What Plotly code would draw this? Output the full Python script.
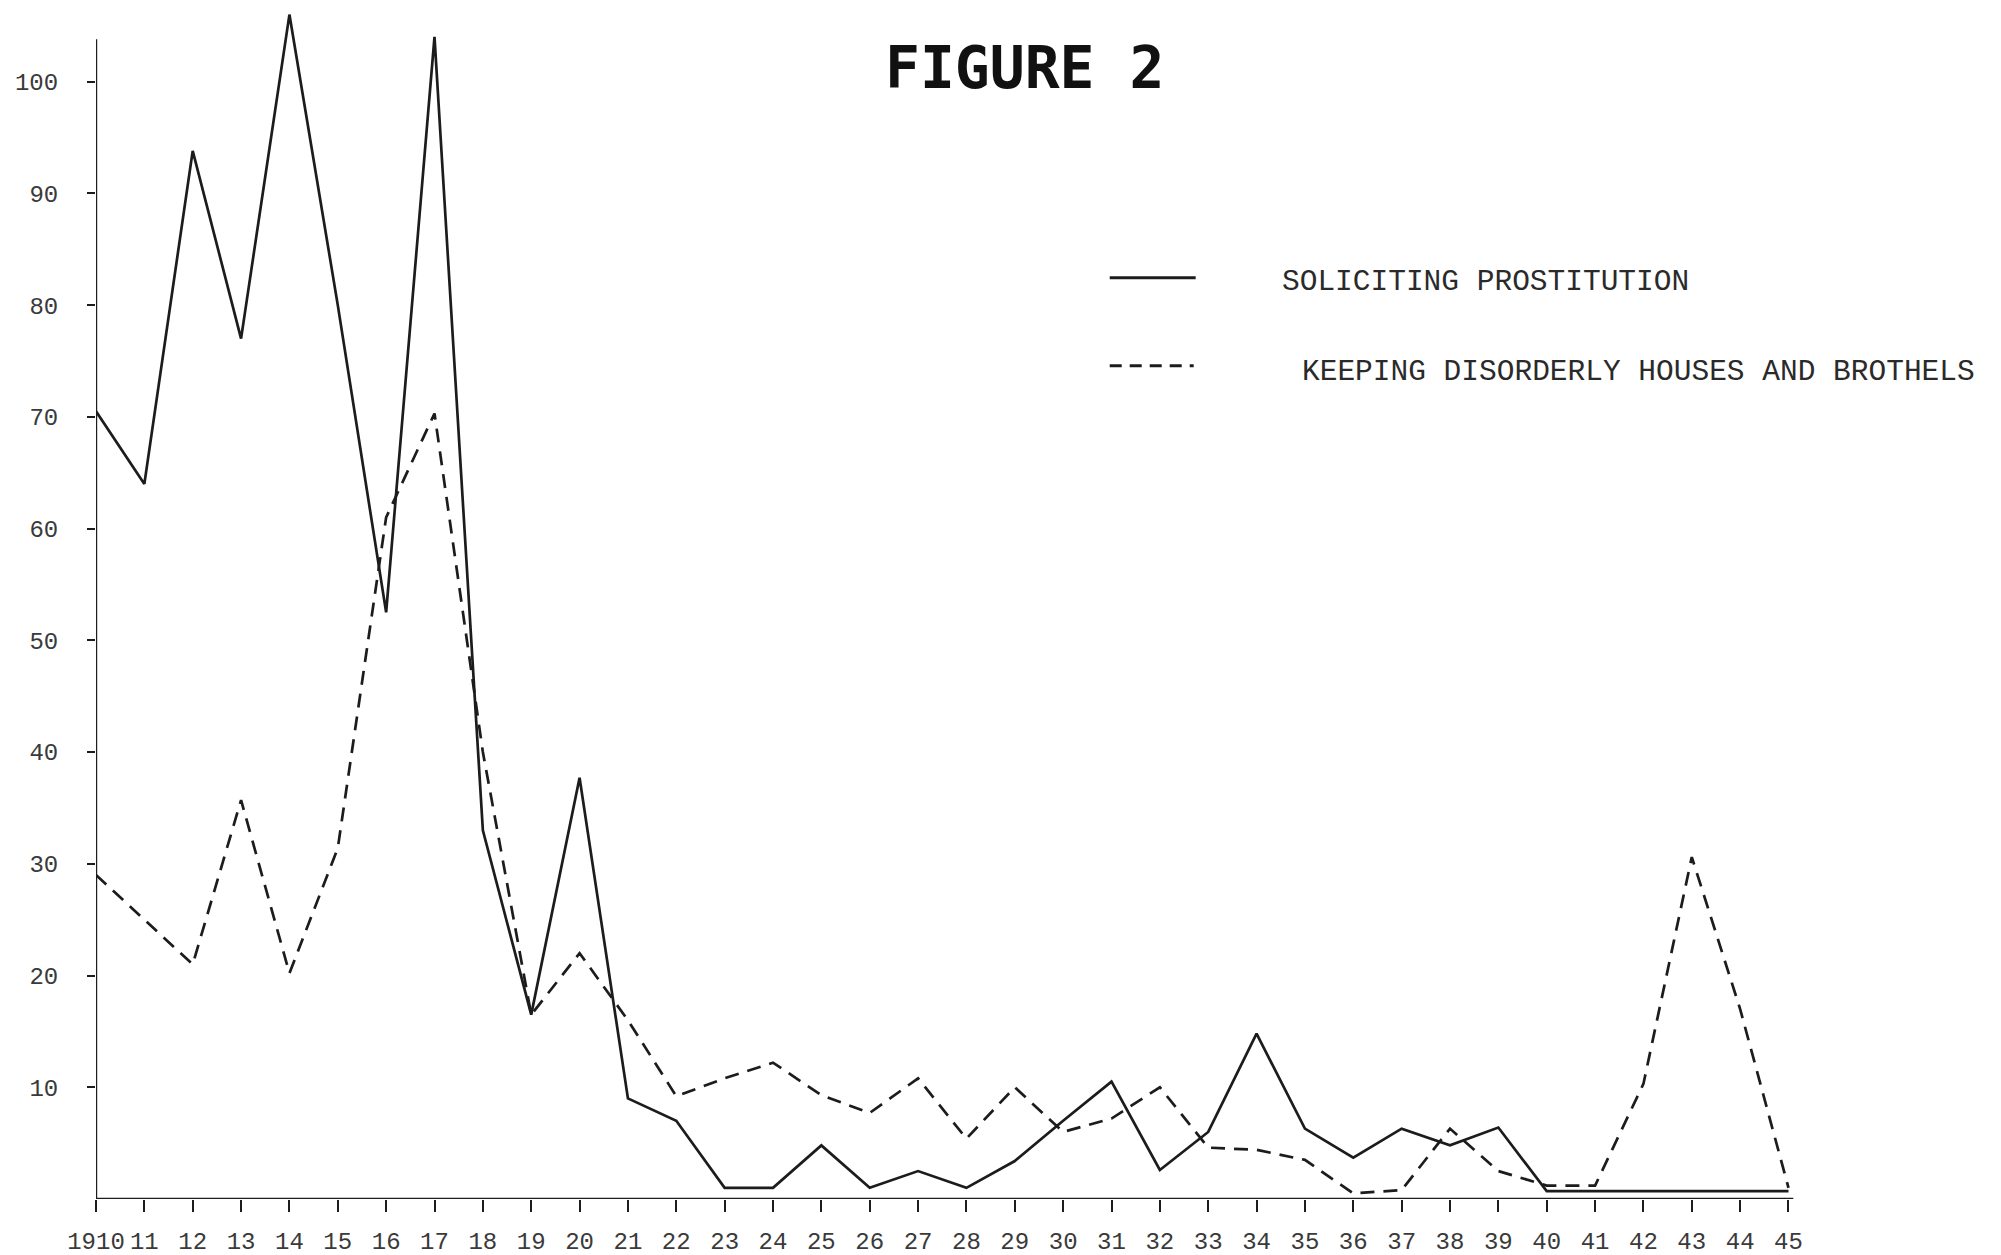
import plotly.graph_objects as go

years = list(range(1910, 1946))
tick_text = ["1910"] + [str(y % 100) for y in years[1:]]
y_ticks = [10, 20, 30, 40, 50, 60, 70, 80, 90, 100]

soliciting = [70.5, 64, 93.8, 77, 106, 80, 52.5, 104, 33, 16.5,
              37.7, 9, 7, 1, 1, 4.8, 1, 2.5, 1, 3.4,
              7, 10.5, 2.6, 6, 14.8, 6.3, 3.7, 6.3, 4.8, 6.4,
              0.7, 0.7, 0.7, 0.7, 0.7, 0.7]
keeping = [29, 25, 21, 35.7, 20.2, 31.4, 61, 70.3, 40, 16.5,
           22, 16, 9.2, 10.8, 12.2, 9.3, 7.7, 10.8, 5.4, 10,
           6, 7.2, 10, 4.6, 4.4, 3.5, 0.5, 0.8, 6.3, 2.5,
           1.2, 1.2, 10.3, 30.6, 17, 1]

names = ["SOLICITING PROSTITUTION", "KEEPING DISORDERLY HOUSES AND BROTHELS"]

W_FIG, H_FIG = 2001, 1255
L, R_PX, T_PX, B_PX = 96, 1803.5, 9.4, 1199
PW, PH = R_PX - L, B_PX - T_PX


def px(x):
    return (x - L) / PW


def py(y):
    return (B_PX - y) / PH


ink = "#1c1c1c"
fig = go.Figure()
fig.add_trace(go.Scatter(x=years, y=soliciting, mode="lines", name=names[0],
                         line=dict(color=ink, width=2.7), showlegend=False))
fig.add_trace(go.Scatter(x=years, y=keeping, mode="lines", name=names[1],
                         line=dict(color=ink, width=2.7, dash="14px,9px"), showlegend=False))

# axes lines
fig.add_shape(type="line", xref="x", yref="y", x0=1910, x1=1910, y0=0, y1=103.8,
              line=dict(color=ink, width=2.4))
fig.add_shape(type="line", xref="x", yref="y", x0=1909.7, x1=1945.1, y0=0, y1=0,
              line=dict(color=ink, width=2.4))

# legend
fig.add_shape(type="line", xref="paper", yref="paper", x0=px(1110), x1=px(1196),
              y0=py(278), y1=py(278), line=dict(color=ink, width=3))
fig.add_shape(type="line", xref="paper", yref="paper", x0=px(1110), x1=px(1194),
              y0=py(366), y1=py(366), line=dict(color=ink, width=3, dash="12px,8px"))
fig.add_annotation(xref="paper", yref="paper", x=px(1280), y=py(282), text=names[0],
                   showarrow=False, xanchor="left", yanchor="middle",
                   font=dict(family="Liberation Mono", size=29.5, color="#2a2a2a"))
fig.add_annotation(xref="paper", yref="paper", x=px(1300), y=py(372), text=names[1],
                   showarrow=False, xanchor="left", yanchor="middle",
                   font=dict(family="Liberation Mono", size=29.5, color="#2a2a2a"))
fig.add_annotation(xref="paper", yref="paper", x=px(1025), y=py(68), text="<b>FIGURE 2</b>",
                   showarrow=False, xanchor="center", yanchor="middle",
                   font=dict(family="DejaVu Sans Mono", size=58, color="#111111"))

fig.update_layout(
    width=W_FIG, height=H_FIG, autosize=False,
    margin=dict(l=L, r=W_FIG - R_PX, t=T_PX, b=H_FIG - B_PX, pad=0),
    plot_bgcolor="white", paper_bgcolor="white",
    font=dict(family="Liberation Mono", color="#3a3a3a"),
)
fig.update_xaxes(range=[1910, 1945.3], tickmode="array", tickvals=years, ticktext=tick_text,
                 ticks="outside", ticklen=12, tickwidth=2, tickcolor=ink,
                 showgrid=False, zeroline=False, showline=False, automargin=False,
                 tickfont=dict(size=24, family="Liberation Mono", color="#3a3a3a"),
                 ticklabelstandoff=8)
fig.update_yaxes(range=[0, 106.5], tickmode="array", tickvals=y_ticks,
                 ticks="outside", ticklen=8, tickwidth=2, tickcolor=ink,
                 showgrid=False, zeroline=False, showline=False, automargin=False,
                 tickfont=dict(size=24, family="Liberation Mono", color="#3a3a3a"),
                 ticklabelstandoff=24)

fig.write_html("out.html", config={"displayModeBar": False},
               post_script="document.body.style.margin='0';document.body.style.overflow='hidden';")
